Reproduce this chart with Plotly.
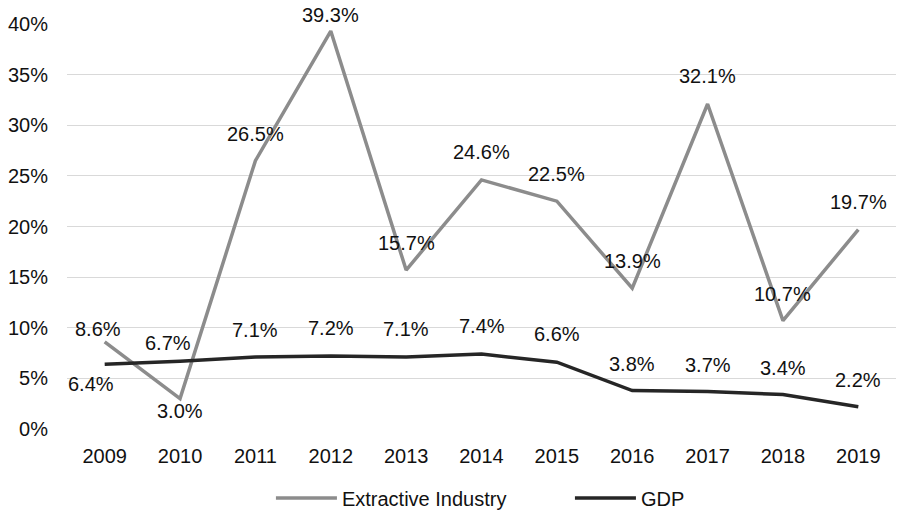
import plotly.graph_objects as go

# Annual growth rates, 2009-2019
years = ["2009", "2010", "2011", "2012", "2013", "2014", "2015", "2016", "2017", "2018", "2019"]
extractive = [8.6, 3.0, 26.5, 39.3, 15.7, 24.6, 22.5, 13.9, 32.1, 10.7, 19.7]
gdp = [6.4, 6.7, 7.1, 7.2, 7.1, 7.4, 6.6, 3.8, 3.7, 3.4, 2.2]
y_ticks = [0, 5, 10, 15, 20, 25, 30, 35, 40]

# label offsets (pixels) relative to each point
ext_shift = [(-7, 13), (0, -12), (0, 27), (0, 16), (0, 27), (0, 28), (0, 27), (0, 27), (0, 28), (0, 27), (0, 28)]
gdp_shift = [(-14, -20), (-12, 18), (0, 27), (0, 28), (0, 28), (0, 28), (0, 28), (0, 27), (0, 27), (0, 27), (0, 27)]

FONT = "Liberation Sans, Arial, Helvetica, sans-serif"
FS = 20
GRAY = "#8c8c8c"
DARK = "#262626"
TXT = "#111111"

idx = list(range(len(years)))

fig = go.Figure()
fig.add_trace(go.Scatter(x=idx, y=extractive, mode="lines", name="Extractive Industry",
                         line=dict(color=GRAY, width=3.5)))
fig.add_trace(go.Scatter(x=idx, y=gdp, mode="lines", name="GDP",
                         line=dict(color=DARK, width=3.5)))

annotations = []
for vals, shifts in ((extractive, ext_shift), (gdp, gdp_shift)):
    for i, v, (dx, dy) in zip(idx, vals, shifts):
        annotations.append(dict(x=i, y=v, text=f"{v:.1f}%", showarrow=False,
                                xshift=dx, yshift=dy, xanchor="center", yanchor="middle",
                                font=dict(family=FONT, size=FS, color=TXT)))

fig.update_layout(
    width=898, height=517,
    margin=dict(l=67, r=2, t=24, b=88, autoexpand=False),
    paper_bgcolor="white", plot_bgcolor="white",
    font=dict(family=FONT, size=FS, color=TXT),
    annotations=annotations,
    showlegend=True,
    legend=dict(orientation="h", x=0.246, xanchor="left",
                yref="container", y=19 / 517, yanchor="middle",
                font=dict(family=FONT, size=FS, color=TXT), itemwidth=61,
                entrywidth=223, entrywidthmode="pixels"),
    xaxis=dict(range=[-0.5, len(years) - 0.5], tickvals=idx, ticktext=years,
               showgrid=False, zeroline=False, showline=False, automargin=False,
               ticks="", ticklabelstandoff=13, tickfont=dict(size=FS)),
    yaxis=dict(range=[0, 40], tickvals=y_ticks, ticktext=[f"{t}%" for t in y_ticks],
               showgrid=True, gridcolor="#d9d9d9", gridwidth=1.2, zeroline=False,
               showline=False, automargin=False,
               ticks="", ticklabelstandoff=18, tickfont=dict(size=FS)),
)

fig.write_html("out.html")
